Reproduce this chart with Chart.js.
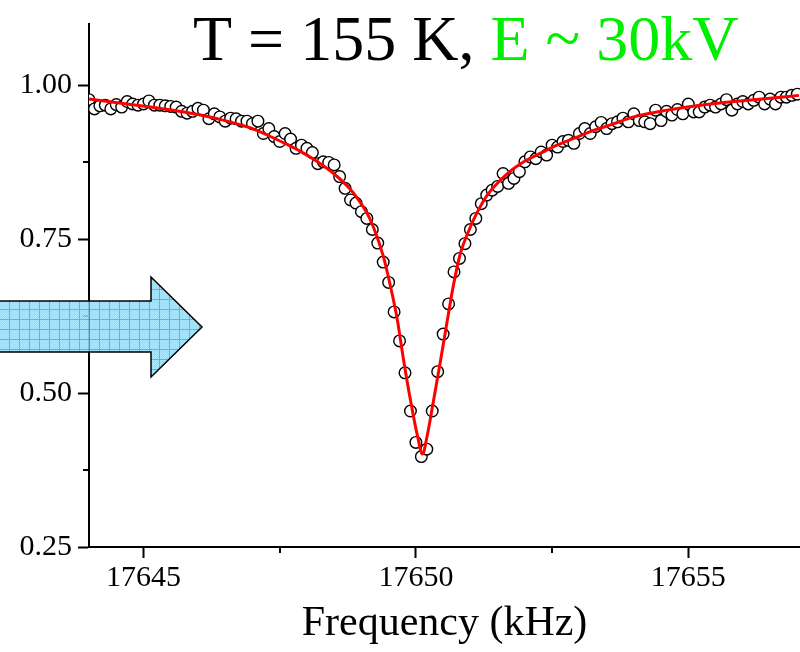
<!DOCTYPE html>
<html>
<head>
<meta charset="utf-8">
<script src="https://cdn.jsdelivr.net/npm/chart.js@4.4.1/dist/chart.umd.min.js"></script>
<style>
  html, body { margin: 0; padding: 0; background: #fff; }
  #wrap { width: 800px; height: 652px; position: relative; }
</style>
</head>
<body>
<div id="wrap"><canvas id="c" width="800" height="652"></canvas></div>
<script>
// ---- data ----
const freq = [
  17644.0,17644.1,17644.2,17644.3,17644.4,17644.5,17644.6,17644.7,17644.8,17644.9,
  17645.0,17645.1,17645.2,17645.3,17645.4,17645.5,17645.6,17645.7,17645.8,17645.9,
  17646.0,17646.1,17646.2,17646.3,17646.4,17646.5,17646.6,17646.7,17646.8,17646.9,
  17647.0,17647.1,17647.2,17647.3,17647.4,17647.5,17647.6,17647.7,17647.8,17647.9,
  17648.0,17648.1,17648.2,17648.3,17648.4,17648.5,17648.6,17648.7,17648.8,17648.9,
  17649.0,17649.1,17649.2,17649.3,17649.4,17649.5,17649.6,17649.7,17649.8,17649.9,
  17650.0,17650.1,17650.2,17650.3,17650.4,17650.5,17650.6,17650.7,17650.8,17650.9,
  17651.0,17651.1,17651.2,17651.3,17651.4,17651.5,17651.6,17651.7,17651.8,17651.9,
  17652.0,17652.1,17652.2,17652.3,17652.4,17652.5,17652.6,17652.7,17652.8,17652.9,
  17653.0,17653.1,17653.2,17653.3,17653.4,17653.5,17653.6,17653.7,17653.8,17653.9,
  17654.0,17654.1,17654.2,17654.3,17654.4,17654.5,17654.6,17654.7,17654.8,17654.9,
  17655.0,17655.1,17655.2,17655.3,17655.4,17655.5,17655.6,17655.7,17655.8,17655.9,
  17656.0,17656.1,17656.2,17656.3,17656.4,17656.5,17656.6,17656.7,17656.8,17656.9,
  17657.0
];
const measured = [
  0.977,0.962,0.967,0.968,0.962,0.969,0.965,0.974,0.970,0.968,
  0.970,0.975,0.968,0.968,0.967,0.966,0.965,0.958,0.955,0.958,
  0.963,0.960,0.946,0.954,0.949,0.942,0.947,0.946,0.942,0.942,
  0.938,0.942,0.922,0.930,0.917,0.909,0.922,0.913,0.898,0.903,
  0.898,0.891,0.873,0.876,0.875,0.871,0.852,0.833,0.814,0.809,
  0.795,0.784,0.766,0.744,0.713,0.680,0.632,0.585,0.533,0.471,
  0.420,0.397,0.409,0.471,0.535,0.596,0.645,0.697,0.719,0.743,
  0.766,0.784,0.808,0.822,0.830,0.836,0.857,0.841,0.849,0.860,
  0.876,0.884,0.881,0.892,0.887,0.903,0.900,0.909,0.911,0.906,
  0.922,0.930,0.922,0.933,0.940,0.930,0.938,0.941,0.947,0.941,
  0.954,0.943,0.941,0.938,0.960,0.943,0.958,0.952,0.961,0.954,
  0.970,0.957,0.957,0.965,0.968,0.965,0.970,0.977,0.960,0.970,
  0.974,0.970,0.976,0.981,0.970,0.978,0.970,0.981,0.981,0.984,
  0.986
];
const fitFreq = [
  17644.00,17644.52,17645.13,17645.75,17646.36,17646.97,17647.26,17647.57,17647.88,17648.18,
  17648.49,17648.80,17648.94,17649.10,17649.22,17649.40,17649.53,17649.66,17649.77,17649.90,
  17650.03,17650.12,17650.21,17650.32,17650.45,17650.58,17650.69,17650.81,17651.00,17651.12,
  17651.31,17651.67,17651.98,17652.29,17652.59,17652.90,17653.20,17653.57,17654.00,17654.61,
  17655.22,17655.84,17656.45,17657.03
];
const fitVal = [
  0.978,0.972,0.965,0.957,0.946,0.931,0.920,0.907,0.893,0.877,
  0.857,0.831,0.815,0.793,0.770,0.723,0.675,0.619,0.556,0.489,
  0.430,0.401,0.432,0.486,0.552,0.620,0.676,0.725,0.770,0.793,
  0.822,0.856,0.876,0.890,0.903,0.914,0.925,0.936,0.949,0.960,
  0.968,0.974,0.979,0.984
];
const xTickStep = 5;
const yTickStep = 0.25;
const xMinorTicks = [17647.5, 17652.5];
const yMinorTicks = [0.375, 0.625, 0.875];
const titleBlack = 'T = 155 K, ';
const titleGreen = 'E ~ 30kV';
const xTitle = 'Frequency (kHz)';

const SERIF = '"Liberation Serif", "Times New Roman", Times, serif';

// ---- decorations ----
const minorTicksPlugin = {
  id: 'minorTicks',
  afterDraw(chart) {
    const {ctx, scales: {x, y}, chartArea} = chart;
    ctx.save();
    ctx.strokeStyle = '#000';
    ctx.lineWidth = 2;
    ctx.beginPath();
    xMinorTicks.forEach(v => {
      const px = Math.round(x.getPixelForValue(v));
      ctx.moveTo(px, chartArea.bottom);
      ctx.lineTo(px, chartArea.bottom + 6);
    });
    yMinorTicks.forEach(v => {
      const py = Math.round(y.getPixelForValue(v));
      ctx.moveTo(chartArea.left, py);
      ctx.lineTo(chartArea.left - 6, py);
    });
    ctx.stroke();
    ctx.restore();
  }
};

const titlePlugin = {
  id: 'twoColourTitle',
  afterDraw(chart) {
    const ctx = chart.ctx;
    ctx.save();
    ctx.font = '64px ' + SERIF;
    ctx.textBaseline = 'alphabetic';
    ctx.textAlign = 'left';
    const x0 = 193, base = 60;
    ctx.fillStyle = '#000';
    ctx.fillText(titleBlack, x0, base);
    const w = ctx.measureText(titleBlack).width;
    ctx.fillStyle = '#00ee00';
    ctx.fillText(titleGreen, x0 + w, base);
    ctx.restore();
  }
};

function makePattern(ctx) {
  const p = document.createElement('canvas');
  p.width = 10; p.height = 10;
  const g = p.getContext('2d');
  g.fillStyle = '#7fdcff';
  g.fillRect(0, 0, 10, 10);
  g.fillStyle = '#9ee6ff';
  for (let i = 0; i < 10; i++) for (let j = 0; j < 10; j++) if ((i + j) % 2 === 0) g.fillRect(i, j, 1, 1);
  g.fillStyle = '#12c2f2';
  g.fillRect(9, 0, 1, 10);
  g.fillRect(0, 9, 10, 1);
  return ctx.createPattern(p, 'repeat');
}

const arrowPlugin = {
  id: 'arrow',
  afterDraw(chart) {
    const ctx = chart.ctx;
    ctx.save();
    ctx.beginPath();
    ctx.moveTo(-2, 301);
    ctx.lineTo(151, 301);
    ctx.lineTo(151, 277);
    ctx.lineTo(202, 327);
    ctx.lineTo(151, 377);
    ctx.lineTo(151, 352);
    ctx.lineTo(-2, 352);
    ctx.closePath();
    ctx.globalAlpha = 0.88;
    ctx.fillStyle = makePattern(ctx);
    ctx.fill();
    ctx.globalAlpha = 1;
    ctx.strokeStyle = '#000';
    ctx.lineWidth = 1.5;
    ctx.stroke();
    ctx.restore();
  }
};

const measuredPts = freq.map((f, i) => ({x: f, y: measured[i]}));
const fitPts = fitFreq.map((f, i) => ({x: f, y: fitVal[i]}));

new Chart(document.getElementById('c'), {
  type: 'scatter',
  data: {
    datasets: [
      {
        label: 'fit',
        data: fitPts,
        showLine: true,
        borderColor: '#ff0000',
        borderWidth: 3,
        pointRadius: 0,
        cubicInterpolationMode: 'monotone',
        order: 0
      },
      {
        label: 'data',
        data: measuredPts,
        showLine: false,
        pointStyle: 'circle',
        pointRadius: 5.8,
        pointBorderWidth: 1.4,
        pointBorderColor: '#000',
        pointBackgroundColor: '#fff',
        order: 1
      }
    ]
  },
  options: {
    responsive: false,
    animation: false,
    layout: { autoPadding: false, padding: { top: 22, right: 0, left: 0, bottom: 0 } },
    plugins: { legend: { display: false }, tooltip: { enabled: false }, title: { display: false } },
    scales: {
      x: {
        type: 'linear',
        min: 17644,
        max: 17657.05,
        ticks: {
          stepSize: xTickStep,
          includeBounds: false,
          color: '#000',
          font: { family: SERIF, size: 30 },
          padding: 2,
          maxRotation: 0,
          callback: v => String(v)
        },
        grid: { drawOnChartArea: false, drawTicks: true, tickLength: 11, tickWidth: 2, tickColor: '#000', color: '#000' },
        border: { display: true, color: '#000', width: 2 },
        title: { display: true, text: xTitle, color: '#000', font: { family: SERIF, size: 42 }, padding: { top: 0, bottom: 3 } },
        afterFit: s => { s.height = 105; s.paddingRight = 0; s.paddingLeft = 0; }
      },
      y: {
        type: 'linear',
        min: 0.25,
        max: 1.1,
        ticks: {
          stepSize: yTickStep,
          includeBounds: false,
          color: '#000',
          font: { family: SERIF, size: 30 },
          padding: 6,
          callback: v => Number(v).toFixed(2)
        },
        grid: { drawOnChartArea: false, drawTicks: true, tickLength: 11, tickWidth: 2, tickColor: '#000', color: '#000' },
        border: { display: true, color: '#000', width: 2 },
        afterFit: s => { s.width = 89; }
      }
    }
  },
  plugins: [minorTicksPlugin, titlePlugin, arrowPlugin]
});
</script>
</body>
</html>
